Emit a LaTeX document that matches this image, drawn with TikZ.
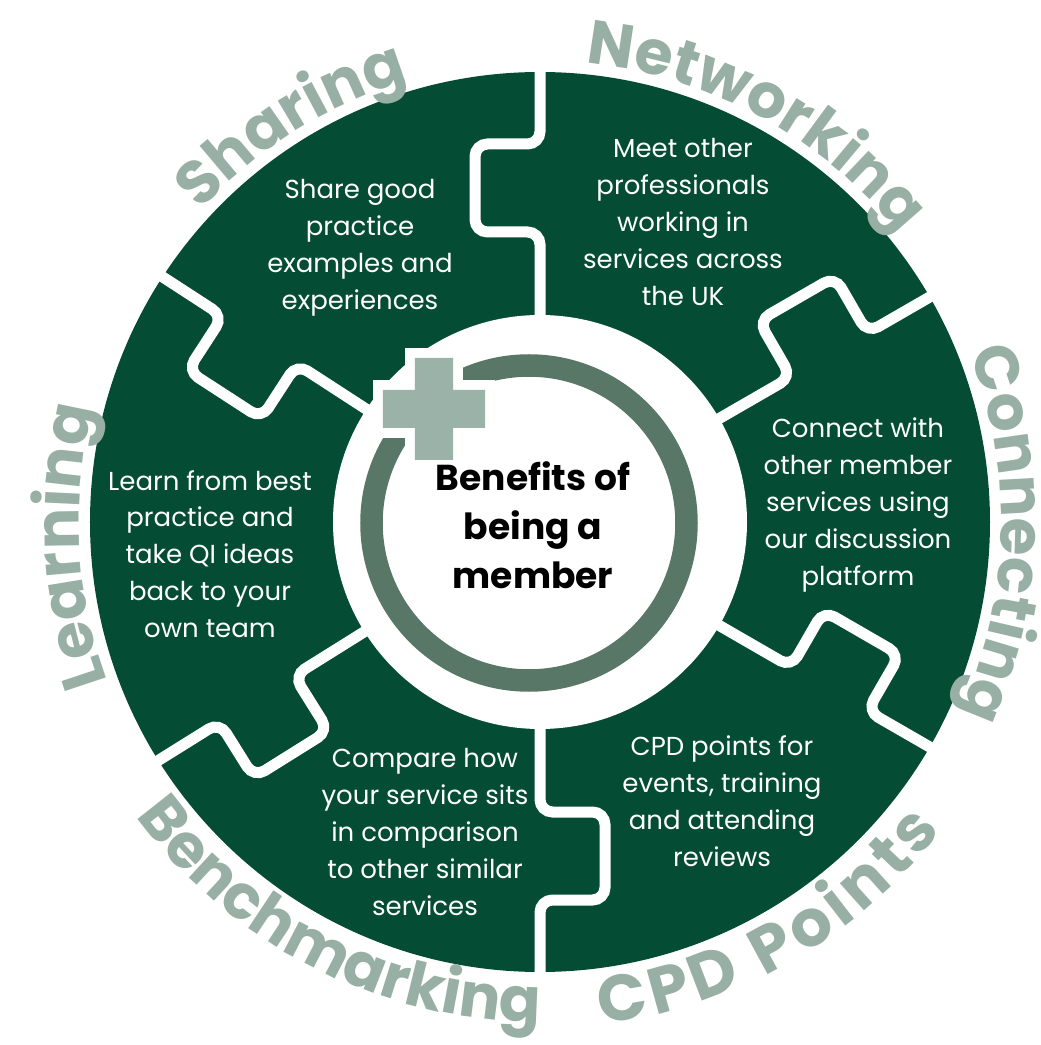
\documentclass[tikz,border=0pt]{standalone}
\usepackage{fontspec}
\setmainfont{Poppins}
\usepackage{tikz}
\usetikzlibrary{decorations.text}

\definecolor{pzgreen}{HTML}{044D34}
\definecolor{lblgray}{HTML}{98AFA6}
\definecolor{ringgray}{HTML}{587767}
\definecolor{crossgray}{HTML}{9BB2A8}

\newcommand{\lblfont}{\fontsize{35}{35}\selectfont\bfseries}
\newcommand{\lblfontbig}{\fontsize{37}{37}\selectfont\bfseries}
\tikzstyle{cut} = [white, line width=0.22cm, rounded corners=0.25cm]
\tikzstyle{blurb} = [text=white, align=center, font=\fontsize{14.8}{21}\selectfont]
\tikzstyle{arctext} = [decorate, decoration={text along path, text align=center, text color=lblgray}]

\begin{document}
\begin{tikzpicture}
    \useasboundingbox (-10.8,-10.46) rectangle (10.02,10.44);
    % Disk with hole
    \fill[pzgreen] (0,0) circle (9);
    \fill[white] (0,0) circle (4.14);
    % Puzzle cuts, tab always on the ccw side
    \foreach \a in {90,30,-30,-90,212,147} {
        \draw[cut, rotate=\a] (3.9,0) -- (5.8,0) -- (5.8,1.3) -- (7.56,1.3) -- (7.56,0) -- (9.3,0);
    }
    % Ring and cross
    \draw[ringgray, line width=0.45cm] (-0.22,-0.02) circle (3.15);
    \begin{scope}[shift={(-2.12,2.26)}]
        \draw[white, line width=0.4cm] (-1.02,-0.38) rectangle (1.02,0.38) (-0.38,-1.02) rectangle (0.38,1.02);
        \fill[crossgray] (-1.02,-0.38) rectangle (1.02,0.38) (-0.38,-1.02) rectangle (0.38,1.02);
    \end{scope}
    \node[font=\fontsize{20.5}{28}\selectfont\bfseries, align=center] (title) at (-0.14,-0.06) {Benefits of\\being a\\member};
    % Piece texts
    \node[blurb] (share) at (-3.6,5.48) {Share good\\practice\\examples and\\experiences};
    \node[blurb] (meet) at (2.86,6.0) {Meet other\\professionals\\working in\\services across\\the UK};
    \node[blurb] (connect) at (6.36,0.34) {Connect with\\other member\\services using\\our discussion\\platform};
    \node[blurb] (cpd) at (3.64,-5.58) {CPD points for\\events, training\\and attending\\reviews};
    \node[blurb] (compare) at (-2.3,-6.2) {Compare how\\your service sits\\in comparison\\to other similar\\services};
    \node[blurb] (learn) at (-6.6,-0.64) {Learn from best\\practice and\\take QI ideas\\back to your\\own team};
    % Curved labels
    \path[arctext, decoration={text={|\lblfont|Learning}}] (213:9.22) arc[start angle=213, end angle=153, radius=9.22];
    \path[arctext, decoration={text={|\lblfont|Sharing}}] (152:9.22) arc[start angle=152, end angle=92, radius=9.22];
    \path[arctext, decoration={text={|\lblfont|Networking}}] (91.5:9.22) arc[start angle=91.5, end angle=31.5, radius=9.22];
    \path[arctext, decoration={text={|\lblfont|Connecting}}] (28.5:9.22) arc[start angle=28.5, end angle=-31.5, radius=9.22];
    \path[arctext, decoration={text={|\lblfontbig|CPD Points}, text align=fit to path}] (-83:10.12) arc[start angle=-83, end angle=-37.5, radius=10.12];
    \path[arctext, decoration={text={|\lblfont|Benchmarking}}] (200.5:10.0) arc[start angle=200.5, end angle=285.5, radius=10.0];
\end{tikzpicture}
\end{document}
